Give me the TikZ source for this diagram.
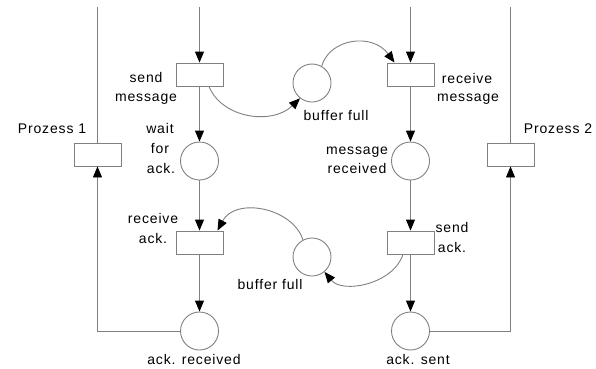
\documentclass[tikz,border=0pt]{standalone}
\usepackage{fontspec}
\setmainfont{Liberation Sans}[LetterSpace=6]
\usetikzlibrary{arrows.meta}
\definecolor{lg}{RGB}{128,128,128}
\begin{document}
\begin{tikzpicture}[x=1pt,y=-1pt,
  trans/.style={draw=lg,line width=0.9pt,minimum width=47pt,minimum height=23pt,inner sep=0pt},
  place/.style={circle,draw=lg,line width=0.9pt,minimum size=38pt,inner sep=0pt},
  arc/.style={draw=lg,line width=0.9pt,-{Triangle[length=11pt,width=9pt,color=black]}},
  wire/.style={draw=lg,line width=0.9pt},
  lbl/.style={font=\fontsize{14}{20}\selectfont,anchor=base,inner sep=0pt}]
\useasboundingbox (0,0) rectangle (596,368);
% transitions
\node[trans] (p1) at (97.5,154.5) {};
\node[trans] (sm) at (199.5,74.5) {};
\node[trans] (ra) at (199.5,242.5) {};
\node[trans] (rm) at (410.5,74.5) {};
\node[trans] (sa) at (410.5,242.5) {};
\node[trans] (p2) at (510.5,154.5) {};
% places
\node[place] (wa) at (199.5,161) {};
\node[place] (ar) at (199.5,331) {};
\node[place] (mr) at (410.5,161) {};
\node[place] (as) at (410.5,331) {};
\node[place] (bf1) at (312,83) {};
\node[place] (bf2) at (312,257) {};
% free ends
\coordinate (t1) at (97.5,7);
\coordinate (t2) at (199.5,7);
\coordinate (t3) at (410.5,7);
\coordinate (t4) at (510.5,7);
% straight connectors
\draw[wire] (t1) -- (p1.north);
\draw[wire] (t4) -- (p2.north);
\draw[arc] (t2) -- (sm.north);
\draw[arc] (sm.south) -- (wa.north);
\draw[arc] (wa.south) -- (ra.north);
\draw[arc] (ra.south) -- (ar.north);
\draw[arc] (t3) -- (rm.north);
\draw[arc] (rm.south) -- (mr.north);
\draw[arc] (mr.south) -- (sa.north);
\draw[arc] (sa.south) -- (as.north);
\draw[arc] (ar.west) -| (p1.south);
\draw[arc] (as.east) -| (p2.south);
% curved connectors
\draw[arc] ([xshift=9.5pt]sm.south) .. controls +(13,32) and +(-28,27) .. (bf1.-128);
\draw[arc] (bf1.60) .. controls +(8,-28) and +(-22,-30) .. ([xshift=-16pt]rm.north);
\draw[arc] (bf2.118) .. controls +(-10,-32) and +(18,-34) .. ([xshift=18pt]ra.north);
\draw[arc] ([xshift=-7.5pt]sa.south) .. controls +(-10,30) and +(18,22) .. (bf2.-50);
% labels
\node[lbl] (lp1) at (52,133) {Prozess 1};
\node[lbl] (lp2) at (558,133) {Prozess 2};
\node[lbl] (lsm1) at (146,82) {send};
\node[lbl] (lsm2) at (146,101) {message};
\node[lbl] (lwa1) at (160,133) {wait};
\node[lbl] (lwa2) at (160,153) {for};
\node[lbl] (lwa3) at (161,173) {ack.};
\node[lbl] (lrm1) at (467,83) {receive};
\node[lbl] (lrm2) at (468,101) {message};
\node[lbl] (lmr1) at (357,154) {message};
\node[lbl] (lmr2) at (357,173) {received};
\node[lbl] (lbf1) at (336,120) {buffer full};
\node[lbl] (lbf2) at (270,289) {buffer full};
\node[lbl] (lra1) at (153,223) {receive};
\node[lbl] (lra2) at (153,243) {ack.};
\node[lbl] (lsa1) at (452,232) {send};
\node[lbl] (lsa2) at (452,252) {ack.};
\node[lbl] (lar) at (194,364) {ack. received};
\node[lbl] (las) at (418,364) {ack. sent};
\end{tikzpicture}
\end{document}
